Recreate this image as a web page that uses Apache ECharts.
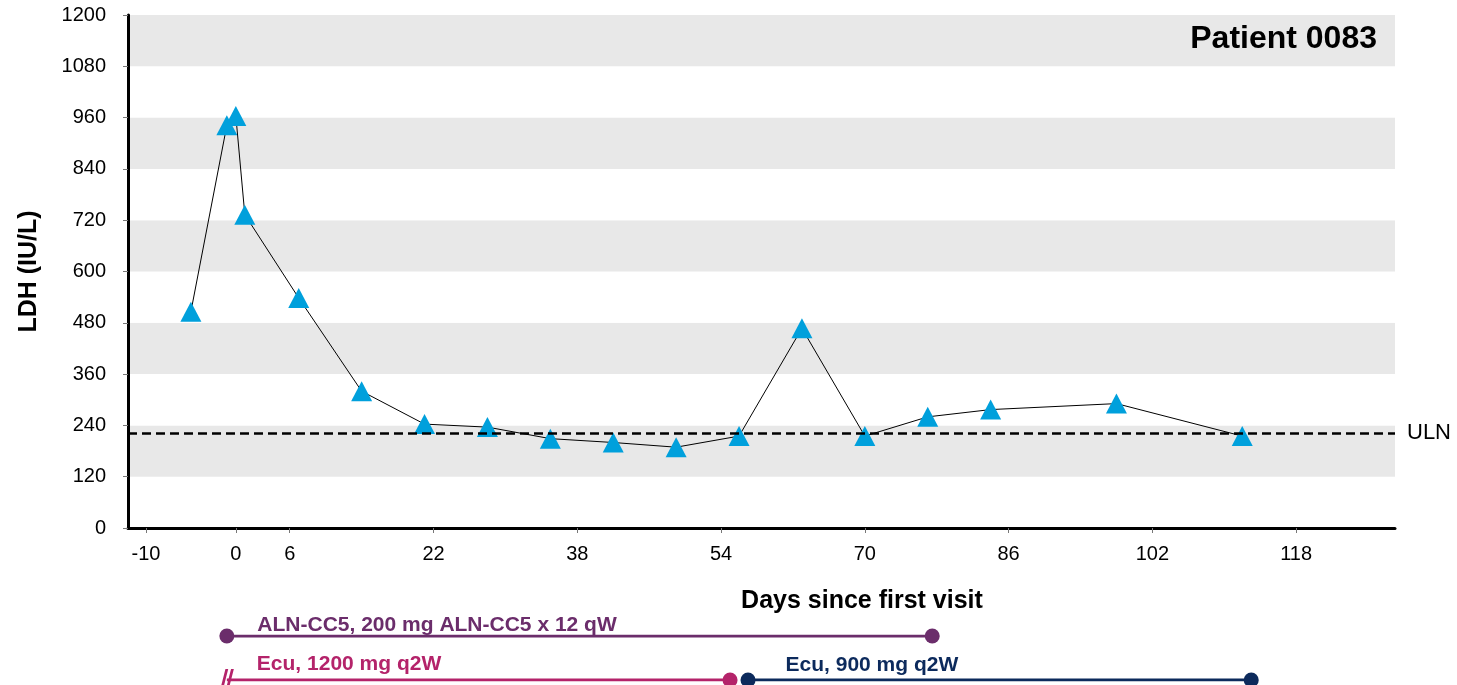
<!DOCTYPE html>
<html>
<head>
<meta charset="utf-8">
<script src="https://cdn.jsdelivr.net/npm/echarts@6/dist/echarts.min.js"></script>
<style>
  html, body { margin: 0; padding: 0; background: #fff; }
  #chart { width: 1457px; height: 685px; }
</style>
</head>
<body>
<div id="chart"></div>
<script>
// LDH measurements per visit
const days = [-5, -1, 0, 1, 7, 14, 21, 28, 35, 42, 49, 56, 63, 70, 77, 84, 98, 112];
const ldh = [506, 942, 964, 733, 538, 320, 243, 236, 209, 200, 189, 215, 467, 215, 260, 277, 291, 215];
const uln = 222;

// axis ticks
const xTicks = [-10, 0, 6, 22, 38, 54, 70, 86, 102, 118];
const xMin = -12, xMax = 129;
const yMin = 0, yMax = 1200, yStep = 120;

// treatment periods (start day, end day)
const alnPeriod = [-1, 77.5];
const ecu1200Period = [-1, 55];
const ecu900Period = [57, 113];
const alnText = 'ALN-CC5, 200 mg ALN-CC5 x 12 qW';
const ecu1200Text = 'Ecu, 1200 mg q2W';
const ecu900Text = 'Ecu, 900 mg q2W';

const FONT = "'Liberation Sans', Arial, sans-serif";
const PURPLE = '#6B2D6B', PINK = '#B4236A', NAVY = '#0C2A5C';

const chart = echarts.init(document.getElementById('chart'));

function periodLabel(text, color, offset) {
  return {
    show: true, formatter: text, position: 'right', offset: offset,
    color: color, fontSize: 21, fontWeight: 'bold', fontFamily: FONT
  };
}

chart.setOption({
  animation: false,
  backgroundColor: '#fff',
  textStyle: { fontFamily: FONT },
  title: {
    text: 'Patient 0083', right: 80, top: 23, padding: 0,
    textStyle: { fontSize: 32, fontWeight: 'bold', color: '#000', fontFamily: FONT }
  },
  graphic: [{
    type: 'text', x: 862, y: 601,
    style: {
      text: 'Days since first visit', textAlign: 'center', textVerticalAlign: 'middle',
      font: "bold 25px 'Liberation Sans', Arial, sans-serif", fill: '#000'
    }
  }],
  grid: [
    { left: 128, right: 62, top: 15, bottom: 157 },
    { left: 128, right: 62, top: 636, height: 44 }
  ],
  xAxis: [{
    type: 'value', gridIndex: 0, min: xMin, max: xMax,
    axisLine: { show: true, onZero: false, lineStyle: { color: '#000', width: 3 } },
    axisTick: { show: true, customValues: xTicks, length: 5, lineStyle: { color: '#777', width: 1 } },
    axisLabel: { customValues: xTicks, fontSize: 20, color: '#000', margin: 16, fontFamily: FONT,
                 formatter: v => String(v) },
    splitLine: { show: false }
  }, {
    type: 'value', gridIndex: 1, min: xMin, max: xMax, show: false
  }],
  yAxis: [{
    type: 'value', gridIndex: 0, min: yMin, max: yMax, interval: yStep,
    axisLine: { show: true, onZero: false, lineStyle: { color: '#000', width: 3 } },
    axisTick: { show: true, length: 5, lineStyle: { color: '#777', width: 1 } },
    axisLabel: { fontSize: 20, color: '#000', margin: 22, fontFamily: FONT,
                 formatter: v => String(v) },
    splitLine: { show: false },
    splitArea: { show: true, areaStyle: { color: ['#ffffff', '#e8e8e8'] } },
    name: 'LDH (IU/L)', nameLocation: 'middle', nameGap: 86, nameRotate: 90,
    nameTextStyle: { fontSize: 25, fontWeight: 'bold', color: '#000', fontFamily: FONT }
  }, {
    type: 'value', gridIndex: 1, min: 0, max: 1, inverse: true, show: false
  }],
  series: [{
    type: 'line', xAxisIndex: 0, yAxisIndex: 0,
    data: days.map((d, i) => [d, ldh[i]]),
    symbol: 'triangle', symbolSize: [21, 20],
    itemStyle: { color: '#00A0DC' },
    lineStyle: { color: '#000', width: 1 },
    z: 3,
    markLine: {
      silent: true, symbol: 'none',
      lineStyle: { color: '#000', width: 2.5, type: [9, 5] },
      label: { show: true, position: 'end', formatter: 'ULN', distance: 12,
               fontSize: 22, color: '#000', fontFamily: FONT },
      data: [{ yAxis: uln }]
    }
  }, {
    type: 'line', xAxisIndex: 1, yAxisIndex: 1,
    symbol: 'circle', symbolSize: 15,
    itemStyle: { color: PURPLE }, lineStyle: { color: PURPLE, width: 3 },
    label: { show: false },
    data: alnPeriod.map((d, i) => i === 0
      ? { value: [d, 0], label: periodLabel(alnText, PURPLE, [18, -11]) }
      : { value: [d, 0] })
  }, {
    type: 'line', xAxisIndex: 1, yAxisIndex: 1,
    symbol: 'circle', symbolSize: 15,
    itemStyle: { color: PINK }, lineStyle: { color: PINK, width: 3 },
    label: { show: false },
    data: ecu1200Period.map((d, i) => i === 0
      ? { value: [d, 1], symbol: 'path://M0,20 L6,0 L9,0 L3,20 Z M6,20 L12,0 L15,0 L9,20 Z',
          symbolSize: [14, 22], label: periodLabel(ecu1200Text, PINK, [18, -16]) }
      : { value: [d, 1] })
  }, {
    type: 'line', xAxisIndex: 1, yAxisIndex: 1,
    symbol: 'circle', symbolSize: 15,
    itemStyle: { color: NAVY }, lineStyle: { color: NAVY, width: 3 },
    label: { show: false },
    data: ecu900Period.map((d, i) => i === 0
      ? { value: [d, 1], label: periodLabel(ecu900Text, NAVY, [25, -15]) }
      : { value: [d, 1] })
  }]
});
</script>
</body>
</html>
